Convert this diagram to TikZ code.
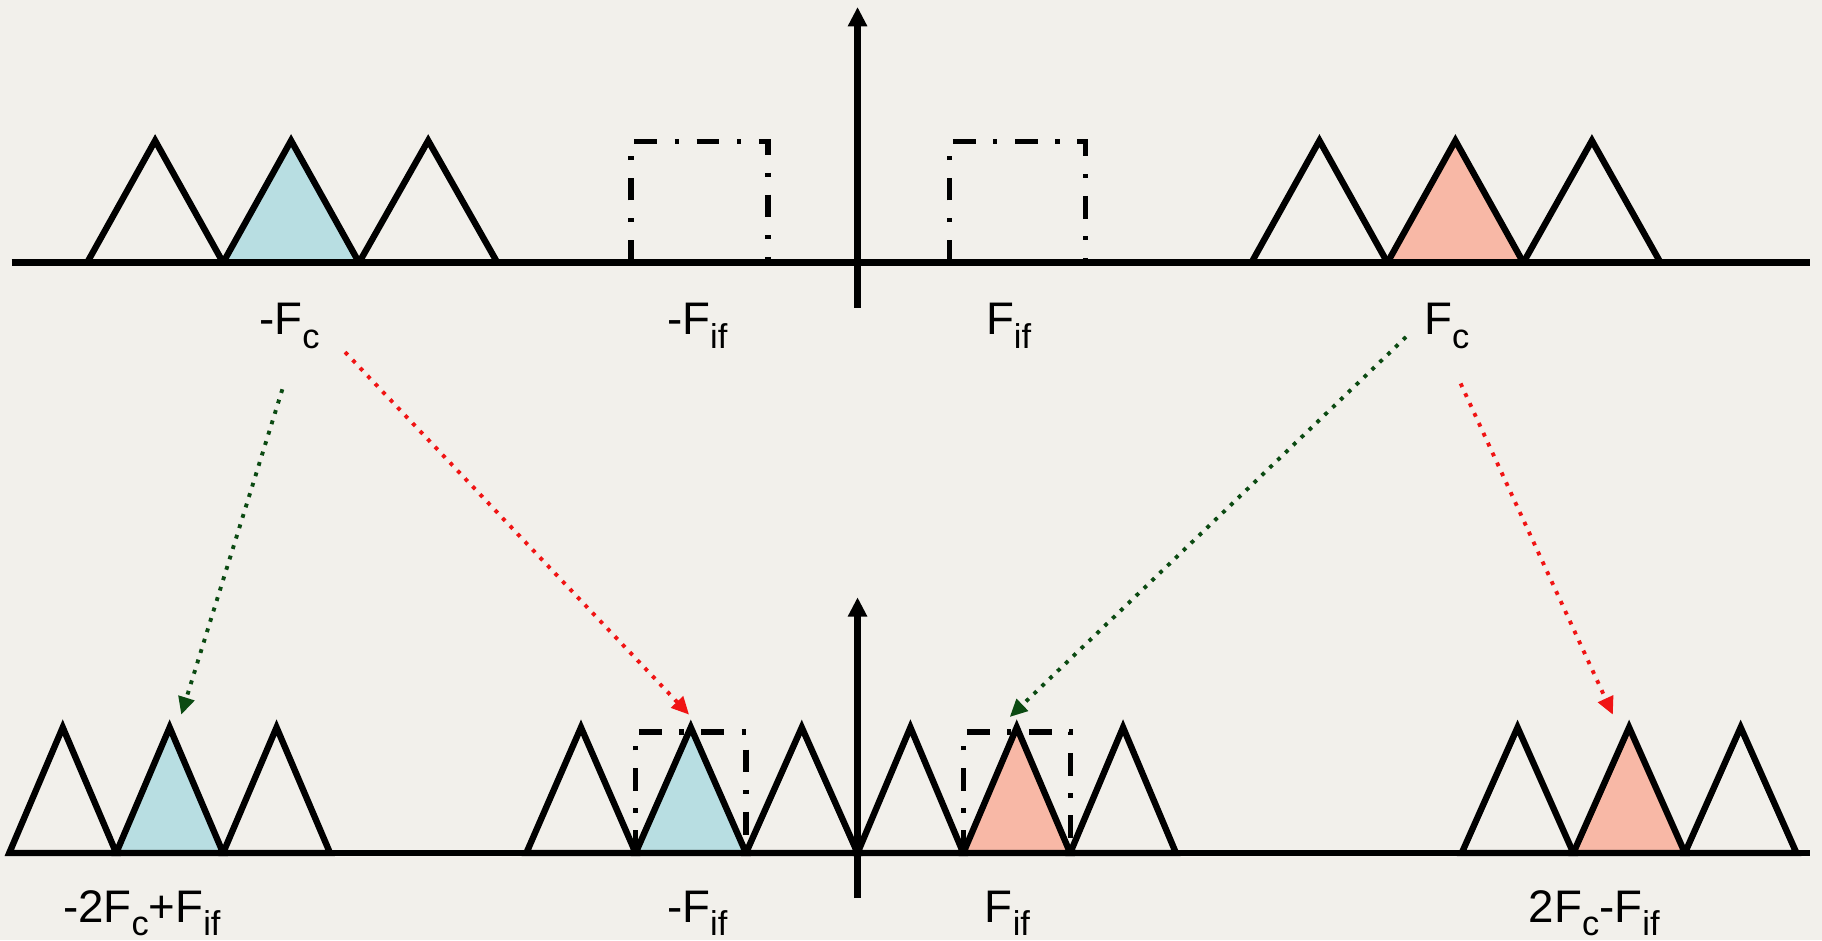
\documentclass[tikz,border=0pt]{standalone}
\usepackage{fontspec}
\setmainfont{Liberation Sans}
\usepackage{xcolor}
\usepackage{tikz}
\usetikzlibrary{arrows.meta,positioning,calc}
\definecolor{cPaper}{HTML}{F2F0EB}
\definecolor{cLow}{HTML}{B8DEE2}
\definecolor{cHigh}{HTML}{F8B8A6}
\definecolor{cGreen}{HTML}{0B4A12}
\definecolor{cRed}{HTML}{F01414}
\newcommand\fsub[1]{\raisebox{-3.8pt}{\fontsize{9.8}{11}\selectfont #1}}
\tikzset{
  axisline/.style={line width=1.9pt, draw=black},
  yaxis/.style={line width=1.8pt, draw=black, -{Triangle[length=5.5pt, width=5.2pt]}},
  band/.style={line width=1.8pt, line join=miter, draw=black, fill=#1},
  band/.default=none,
  ifbox/.style={line width=1.5pt, draw=black, dash pattern=on 6.5pt off 5pt on 1.2pt off 5pt},
  lbl/.style={font=\fontsize{13}{15}\selectfont, anchor=base, inner sep=0pt},
  mix/.style={-{Triangle[length=5pt, width=4.6pt]}, line width=1.1pt, dotted, draw=#1},
}

\begin{document}
\begin{tikzpicture}[x=0.01162cm, y=-0.01162cm]
  \fill[cPaper] (0,0) rectangle (1568,809);
  \useasboundingbox (0,0) rectangle (1568,809);
  % upper spectrum
  \foreach \a/\b/\c in {75/192/none, 192/309/cLow, 309/428/none, 1077/1194/none, 1194/1311/cHigh, 1311/1429/none}
    \draw[band=\c] (\a,226) -- ({(\a+\b)/2},121) -- (\b,226) -- cycle;
  \draw[ifbox] (543,226) -- (543,122) -- (661,122) -- (661,226);
  \draw[ifbox] (817,226) -- (817,122) -- (934,122) -- (934,226);
  \draw[axisline] (10,226) -- (1558,226);
  \draw[yaxis] (738,265) -- (738,6);
  % lower spectrum
  \foreach \a/\b/\c in {8/100/none, 100/192/cLow, 192/284/none, 453/547/none, 547/642/cLow, 642/738/none,
                        738/829/none, 829/921/cHigh, 921/1012/none, 1258/1354/none, 1354/1450/cHigh, 1450/1546/none}
    \draw[band=\c] (\a,734) -- ({(\a+\b)/2},626) -- (\b,734) -- cycle;
  \draw[ifbox] (547,734) -- (547,630) -- (642,630) -- (642,734);
  \draw[ifbox] (829,734) -- (829,630) -- (921,630) -- (921,734);
  \draw[axisline] (6,734) -- (1558,734);
  \draw[yaxis] (738,773) -- (738,514);
  % labels
  \node[lbl] (lblFcNeg) at (249,288) {-F\fsub{c}};
  \node[lbl] (lblFifNeg) at (600,288) {-F\fsub{if}};
  \node[lbl] (lblFif) at (868,288) {F\fsub{if}};
  \node[lbl] (lblFc) at (1245,288) {F\fsub{c}};
  \node[lbl] (lblImgNeg) at (122,794) {-2F\fsub{c}+F\fsub{if}};
  \node[lbl] (lblIfNegB) at (600,794) {-F\fsub{if}};
  \node[lbl] (lblIfB) at (867,794) {F\fsub{if}};
  \node[lbl] (lblImg) at (1372,794) {2F\fsub{c}-F\fsub{if}};
  % mixing products
  \coordinate (g1s) at (243,335); \coordinate (g1e) at (156,615);
  \coordinate (r1s) at (297,303); \coordinate (r1e) at (593,615);
  \coordinate (g2s) at (1210,290); \coordinate (g2e) at (869,617);
  \coordinate (r2s) at (1257,330); \coordinate (r2e) at (1388,615);
  \draw[mix=cGreen] (g1s) -- (g1e);
  \draw[mix=cRed] (r1s) -- (r1e);
  \draw[mix=cGreen] (g2s) -- (g2e);
  \draw[mix=cRed] (r2s) -- (r2e);
\end{tikzpicture}
\end{document}
